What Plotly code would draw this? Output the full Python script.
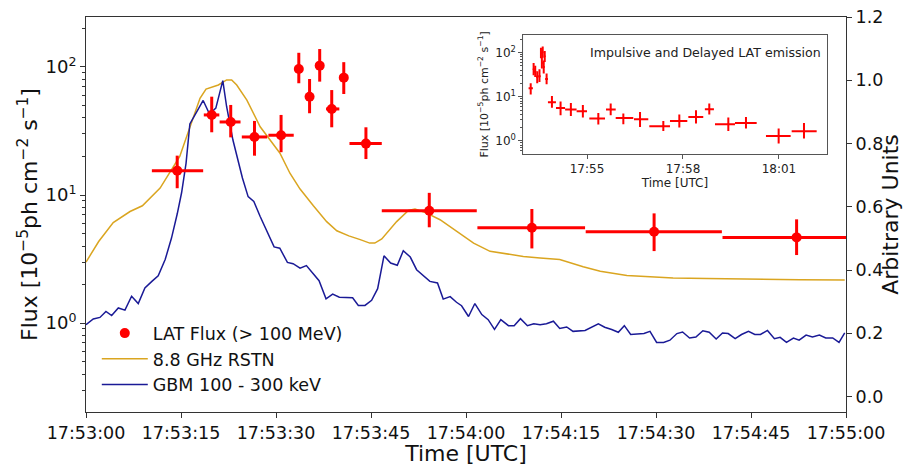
import numpy as np
import plotly.graph_objects as go

# ---------------- data ----------------
# LAT flux points: time in seconds after 17:53:00 UTC
lat_t = [14.4, 19.85, 22.85, 26.6, 30.8, 33.6, 35.3, 36.9, 38.8, 40.7, 44.2,
         54.2, 70.4, 89.7, 112.2,
         141.2, 164.4, 188.1, 219.4, 263.1, 293.1, 324.4, 349.3, 385.0, 418.1, 479.4, 526.9]
lat_t_start = [10.4, 18.6, 21.1, 24.6, 28.8, 33.1, 34.8, 36.4, 37.9, 40.2, 41.6,
               46.7, 61.8, 78.9, 100.5,
               124.3, 155.6, 173.8, 208.1, 236.8, 275.6, 310.0, 341.0, 360.0, 397.5, 455.6, 503.8]
lat_t_end = [18.5, 21.05, 24.4, 28.6, 32.8, 34.1, 35.8, 37.4, 40.0, 41.2, 46.7,
             61.7, 78.8, 100.4, 120.0,
             153.75, 173.8, 206.8, 234.9, 275.6, 308.1, 338.0, 358.0, 397.5, 438.2, 501.9, 550.7]
lat_flux = [15.5, 42.2, 37.2, 28.4, 29.3, 96.5, 58.6, 102.4, 47.0, 82.5, 25.2,
            7.54, 5.55, 5.17, 4.67,
            3.21, 5.13, 3.31, 3.10, 2.15, 2.83, 3.49, 5.21, 2.39, 2.55, 1.28, 1.66]
lat_flux_low = [11.3, 30.9, 28.2, 20.3, 21.6, 74.6, 43.5, 76.8, 33.8, 61.5, 19.1,
                5.6, 3.83, 3.65, 3.4,
                2.35, 3.81, 2.39, 2.07, 1.68, 2.01, 2.48, 3.96, 1.68, 1.91, 0.87, 1.13]
lat_flux_high = [20.3, 58.6, 50.5, 37.9, 42.2, 129.0, 80.5, 138.0, 66.0, 109.0, 33.8,
                 10.4, 7.78, 7.19, 6.46,
                 4.3, 7.0, 4.17, 4.53, 2.83, 3.96, 4.95, 7.0, 3.38, 3.49, 1.91, 2.55]

# 8.8 GHz RSTN (arbitrary units)
rstn_t = [0, 2, 4.3, 5.1, 6.95, 8.9, 11.7, 14.8, 16.4, 18.0, 18.95, 20.9, 22.2, 23.0,
          23.8, 25.4, 27.5, 29.05, 30.6, 32.2, 33.8, 35.9, 38.0, 39.6, 41.5, 43.3, 44.8,
          45.6, 46.7, 49.05, 50.9, 51.95, 53.8, 55.9, 58.0, 61.2, 63.8, 69.05, 71.7, 74.8,
          78.5, 81.2, 85.4, 92.7, 98.0, 105.9, 112.7, 119.8]
rstn_v = [0.425, 0.49, 0.550, 0.561, 0.585, 0.603, 0.659, 0.759, 0.853, 0.943, 0.972,
          0.985, 1.001, 1.001, 0.985, 0.937, 0.853, 0.811, 0.770, 0.706, 0.656, 0.603,
          0.553, 0.524, 0.508, 0.496, 0.485, 0.485, 0.498, 0.553, 0.588, 0.593, 0.580,
          0.559, 0.529, 0.485, 0.459, 0.443, 0.438, 0.433, 0.410, 0.396, 0.383, 0.375,
          0.373, 0.370, 0.369, 0.368]

# GBM 100 - 300 keV (arbitrary units)
gbm_t = [0, 1.15, 2.2, 3.15, 4.05, 5.1, 6.15, 7.2, 8.25, 9.3, 10.4, 11.4, 12.5, 13.5,
         14.4, 15.1, 15.8, 16.4, 17.5, 18.5, 19.5, 20.5, 21.6, 22.2, 23.2, 23.8, 24.7,
         25.6, 26.5, 27.5, 28.5, 29.7, 30.6, 31.8, 32.7, 33.8, 34.8, 36.8, 37.9, 38.95,
         40, 42.1, 43, 44.05, 45.1, 46.05, 47.05, 48.1, 49.15, 50.1, 51.2, 52.2, 54.3,
         55.5, 56.4, 57.5, 58.5, 59.3, 60.4, 61.4, 62.5, 63.5, 64.5, 65.5, 66.7, 67.6,
         68.6, 69.7, 70.7, 71.7, 72.7, 73.8, 74.8, 75.9, 76.9, 78.8, 80.9, 81.9, 83,
         84.05, 85, 86, 88.1, 89.05, 90.1, 91.2, 92.2, 93.3, 94.2, 95.3, 96.3, 97.4,
         98.4, 99.5, 100.5, 101.4, 102.5, 103.5, 104.6, 105.6, 106.5, 107.6, 108.7,
         109.6, 110.6, 111.7, 112.6, 113.7, 114.7, 115.8, 116.8, 117.9, 118.9, 119.8]
gbm_v = [0.227, 0.245, 0.250, 0.269, 0.256, 0.280, 0.273, 0.317, 0.294, 0.343, 0.364,
         0.382, 0.433, 0.501, 0.577, 0.645, 0.738, 0.862, 0.901, 0.936, 0.893, 0.912,
         0.999, 0.917, 0.811, 0.759, 0.691, 0.632, 0.617, 0.569, 0.527, 0.473, 0.469,
         0.424, 0.420, 0.406, 0.414, 0.366, 0.309, 0.324, 0.314, 0.312, 0.288, 0.288,
         0.304, 0.341, 0.445, 0.422, 0.415, 0.461, 0.441, 0.401, 0.364, 0.359, 0.308,
         0.316, 0.298, 0.287, 0.253, 0.294, 0.259, 0.243, 0.212, 0.243, 0.224, 0.224,
         0.246, 0.224, 0.230, 0.227, 0.230, 0.238, 0.215, 0.220, 0.206, 0.209, 0.230,
         0.219, 0.212, 0.203, 0.224, 0.196, 0.199, 0.206, 0.171, 0.171, 0.178, 0.199,
         0.204, 0.185, 0.188, 0.208, 0.203, 0.182, 0.201, 0.199, 0.183, 0.196, 0.206,
         0.196, 0.196, 0.209, 0.183, 0.187, 0.171, 0.185, 0.178, 0.194, 0.188, 0.194,
         0.185, 0.185, 0.171, 0.201]

main_tick_vals = [0, 15, 30, 45, 60, 75, 90, 105, 120]
main_tick_text = ["17:53:00", "17:53:15", "17:53:30", "17:53:45", "17:54:00",
                  "17:54:15", "17:54:30", "17:54:45", "17:55:00"]
inset_tick_vals = [120, 300, 480]
inset_tick_text = ["17:55", "17:58", "18:01"]
impulsive_end = 120

# ---------------- figure ----------------
FONT = "DejaVu Sans"
AX = "#333333"
lat_t_a = np.array(lat_t)
lat_f_a = np.array(lat_flux)
xp = np.array(lat_t_end) - lat_t_a
xm = lat_t_a - np.array(lat_t_start)
yp = np.array(lat_flux_high) - lat_f_a
ym = lat_f_a - np.array(lat_flux_low)

log_minor = [v * d for d in (0.1, 1, 10, 100) for v in range(2, 10)]

fig = go.Figure()

fig.add_trace(go.Scatter(
    x=rstn_t, y=rstn_v, mode="lines", name="8.8 GHz RSTN",
    line=dict(color="goldenrod", width=1.5), xaxis="x", yaxis="y",
    legendrank=2, legendgroup="b"))
fig.add_trace(go.Scatter(
    x=gbm_t, y=gbm_v, mode="lines", name="GBM 100 - 300 keV",
    line=dict(color="#1a1a96", width=1.5), xaxis="x", yaxis="y",
    legendrank=3, legendgroup="c"))
fig.add_trace(go.Scatter(
    x=lat_t, y=lat_flux, mode="markers", name="LAT Flux (> 100 MeV)",
    marker=dict(color="red", size=10),
    error_x=dict(type="data", symmetric=False, array=xp, arrayminus=xm,
                 color="red", thickness=3, width=0),
    error_y=dict(type="data", symmetric=False, array=yp, arrayminus=ym,
                 color="red", thickness=3, width=0),
    xaxis="x", yaxis="y2", legendrank=1, legendgroup="a"))

# inset
fig.add_trace(go.Scatter(
    x=lat_t, y=lat_flux, mode="markers", showlegend=False,
    marker=dict(color="red", size=2),
    error_x=dict(type="data", symmetric=False, array=xp, arrayminus=xm,
                 color="red", thickness=2, width=0),
    error_y=dict(type="data", symmetric=False, array=yp, arrayminus=ym,
                 color="red", thickness=2, width=0),
    xaxis="x2", yaxis="y3"))

fig.add_shape(type="rect", xref="x2", yref="y3 domain",
              x0=0.5, x1=impulsive_end, y0=0, y1=1,
              fillcolor="rgba(31,119,180,0.25)", line_width=0, layer="below")

fig.add_annotation(text="Impulsive and Delayed LAT emission", xref="paper", yref="paper",
                   x=0.6605, y=0.911, xanchor="left", yanchor="middle", showarrow=False,
                   font=dict(family=FONT, size=12.6, color="#222"))

tick_font = dict(family=FONT, size=17.5, color="#111")
title_font = dict(family=FONT, size=22, color="#111")
inset_font = dict(family=FONT, size=12, color="#222")
fig.update_layout(
    width=903, height=466,
    margin=dict(l=86, r=57, t=17, b=54, autoexpand=False),
    paper_bgcolor="white", plot_bgcolor="white",
    font=dict(family=FONT, color="#111"),
    showlegend=True,
    legend=dict(x=0.0142, y=0.245, xanchor="left", yanchor="top", itemwidth=46,
                font=dict(family=FONT, size=17.5, color="#111"),
                bgcolor="rgba(255,255,255,0)", tracegroupgap=0),
    xaxis=dict(domain=[0, 1], range=[0, 120], tickvals=main_tick_vals, ticktext=main_tick_text,
               tickfont=tick_font, showline=True, linecolor=AX, linewidth=1, mirror=True,
               ticks="outside", ticklen=5, tickcolor=AX, showgrid=False, zeroline=False,
               title=dict(text="Time [UTC]", font=title_font, standoff=2),
               anchor="y2"),
    yaxis=dict(side="right", range=[-0.049, 1.2], dtick=0.2, tick0=0, tickformat=".1f",
               tickfont=tick_font, showline=True, linecolor=AX, linewidth=1,
               ticks="outside", ticklen=5, tickcolor=AX, showgrid=False, zeroline=False,
               title=dict(text="Arbitrary Units", font=title_font, standoff=4),
               anchor="x"),
    yaxis2=dict(type="log", overlaying="y", side="left", range=[-0.694, 2.39],
                tickvals=[1, 10, 100], ticktext=["10<sup>0</sup>", "10<sup>1</sup>", "10<sup>2</sup>"],
                tickfont=dict(family=FONT, size=18, color="#111"),
                showline=True, linecolor=AX, linewidth=1,
                ticks="outside", ticklen=5, tickcolor=AX, showgrid=False, zeroline=False,
                minor=dict(tickvals=log_minor, ticks="outside", ticklen=3, tickcolor=AX, showgrid=False),
                title=dict(text="Flux [10<sup>−5</sup>ph cm<sup>−2</sup> s<sup>−1</sup>]",
                           font=title_font, standoff=1),
                anchor="x"),
    xaxis2=dict(domain=[0.5754, 0.9746], range=[0.5, 569.5], anchor="y3",
                tickvals=inset_tick_vals, ticktext=inset_tick_text,
                tickfont=inset_font,
                showline=True, linecolor="#555", linewidth=1, mirror=True,
                ticks="outside", ticklen=4, tickcolor="#555", showgrid=False, zeroline=False,
                title=dict(text="Time [UTC]", font=inset_font, standoff=0)),
    yaxis3=dict(domain=[0.653, 0.9555], type="log", range=[-0.30, 2.41], anchor="x2",
                tickvals=[1, 10, 100], ticktext=["10<sup>0</sup>", "10<sup>1</sup>", "10<sup>2</sup>"],
                tickfont=inset_font,
                showline=True, linecolor="#555", linewidth=1, mirror=True,
                ticks="outside", ticklen=4, tickcolor="#555", showgrid=False, zeroline=False,
                minor=dict(tickvals=log_minor, ticks="outside", ticklen=2, tickcolor="#555", showgrid=False),
                title=dict(text="Flux [10<sup>−5</sup>ph cm<sup>−2</sup> s<sup>−1</sup>]",
                           font=dict(family=FONT, size=11, color="#222"), standoff=4)),
)

fig.write_html("out.html", config={"displayModeBar": False},
               post_script="document.body.style.margin='0px';")
